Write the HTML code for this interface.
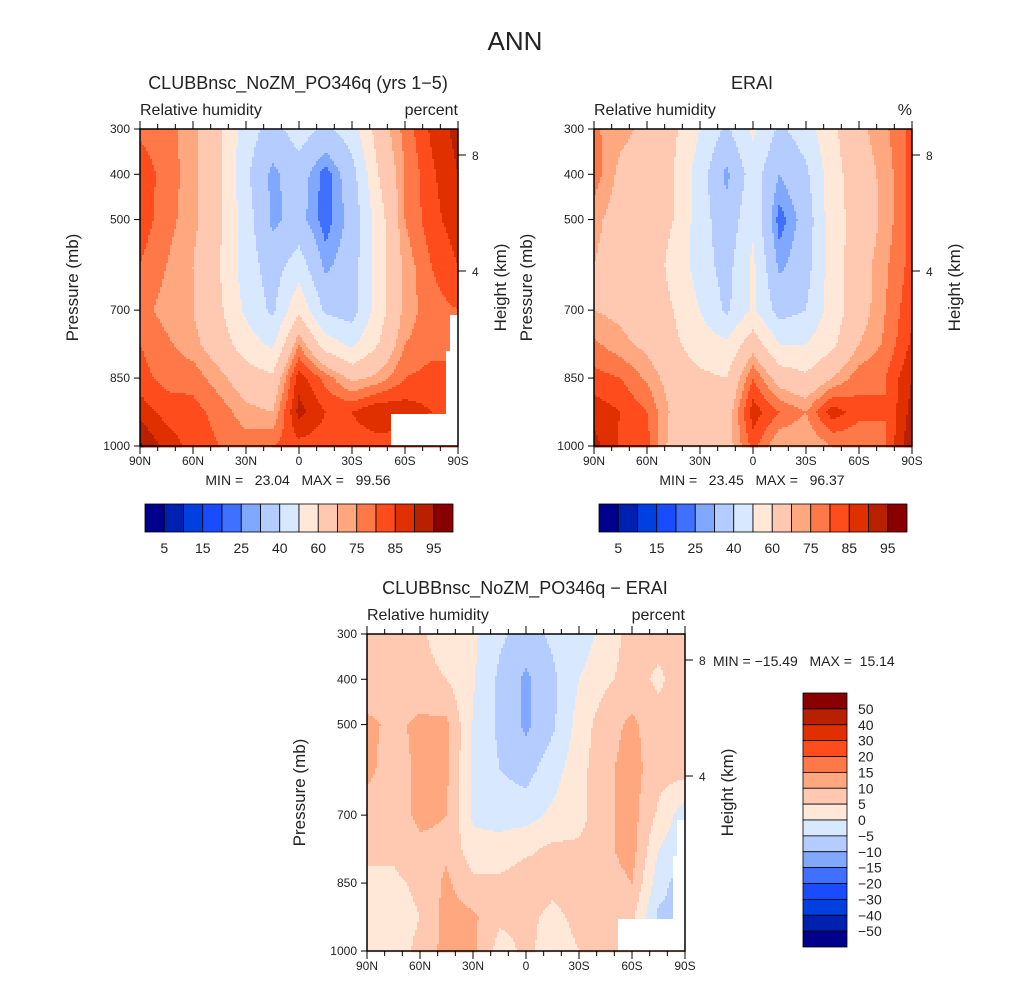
<!DOCTYPE html>
<html><head><meta charset="utf-8"><style>
body{margin:0;background:#fff;}
svg{display:block;font-family:"Liberation Sans","DejaVu Sans",sans-serif;}
.pre{white-space:pre;}
</style></head><body>
<svg id="root" width="1030" height="983" viewBox="0 0 1030 983" xmlns="http://www.w3.org/2000/svg">
<text x="515" y="50" font-size="26" text-anchor="middle" fill="#222">ANN</text>
</svg>
<script>
// ---- data ----
const lats = ["90N","75N","60N","45N","30N","15N","0","15S","30S","45S","60S","75S","90S"];
const latTickLabels = ["90N","60N","30N","0","30S","60S","90S"];
const pressureLevels = [300,400,500,600,700,775,850,925,1000];
const pressureTickLabels = [300,400,500,700,850,1000];
const heightTickLabels = [8,4];
const rhLevels = [5,10,15,20,25,30,40,50,60,70,75,80,85,90,95];
const rhLevelLabels = ["5","15","25","40","60","75","85","95"];
const diffLevels = [-50,-40,-30,-20,-15,-10,-5,0,5,10,15,20,30,40,50];
const palette = ["#00008c","#0020b0","#0040e0","#1a4cff","#4070ff","#80a8ff","#b4ccff","#d8e8ff","#ffe8d8","#ffc8b0","#ffa880","#ff7848","#ff4c1c","#e03000","#b82000","#880000"];
const modelRH = [
 [79,77,72,62,45,36,45,38,45,65,77,86,92],
 [83,78,72,62,42,28,35,22,36,60,75,84,90],
 [83,77,72,62,45,28,33,22,33,55,75,83,88],
 [80,75,70,60,45,35,45,28,35,55,72,80,85],
 [77,73,70,62,48,38,58,38,35,55,72,78,80],
 [80,76,72,65,55,48,75,55,48,60,75,78,80],
 [82,78,78,72,65,62,88,78,68,72,80,82,80],
 [88,83,82,78,72,70,92,85,85,90,88,85,85],
 [96,88,83,80,78,80,83,82,82,82,82,80,80]];
const eraiRH = [
 [76,72,68,62,50,38,52,38,45,58,68,74,82],
 [78,68,66,60,45,28,45,30,38,56,66,72,82],
 [72,66,64,60,45,33,48,22,34,56,64,72,82],
 [70,66,64,58,45,36,52,28,36,55,66,74,82],
 [70,68,64,60,50,38,52,36,40,55,66,75,84],
 [76,72,68,62,55,52,66,50,50,58,70,76,86],
 [82,80,74,66,62,60,80,66,62,70,78,80,90],
 [88,85,80,68,64,65,88,80,75,88,82,80,92],
 [92,84,82,66,62,66,82,70,70,75,75,80,95]];
const diffRH = [
 [7,7,6,2,1,-4,-7,-4,-3,2,7,7,7],
 [7,7,7,5,0.5,-6,-11,-6,0,4,7,4,8],
 [11,9,11,11,-0.5,-6,-11,-6,2,8,11,7,7],
 [11,8,11,11,-1,-5,-7,-2,3,9,12,7,7],
 [8,8,11,10,-1,-2,-2,1,3,9,12,4,-3],
 [7,6,9,9,2,2,4,6,6,9,12,0,-4],
 [3,4,6,11,6,6,8,6,7,8,10,-3,-8],
 [2,3,5,12,11,6,6,4,6,7,6,-6,-6],
 [3,3,6,12,11,3,6,3,5,5,5,3,3]];
const stats = [["23.04","99.56"],["23.45","96.37"],["\u221215.49","15.14"]];

const NS="http://www.w3.org/2000/svg";
const root=document.getElementById('root');
function el(tag,attrs,parent){const e=document.createElementNS(NS,tag);for(const k in attrs)e.setAttribute(k,attrs[k]);(parent||root).appendChild(e);return e;}
function txt(s,attrs,parent){const e=el('text',attrs,parent);e.textContent=s;return e;}

function binOf(v,levels){let b=0;while(b<levels.length&&v>=levels[b])b++;return b;}
function sample(grid,fx,p){
  let j=0;while(j<pressureLevels.length-2&&p>pressureLevels[j+1])j++;
  const t=Math.max(0,Math.min(1,(p-pressureLevels[j])/(pressureLevels[j+1]-pressureLevels[j])));
  let i=Math.min(11,Math.floor(fx));const s=fx-i;
  const a=grid[j][i]*(1-s)+grid[j][i+1]*s, b=grid[j+1][i]*(1-s)+grid[j+1][i+1]*s;
  return a*(1-t)+b*t;
}

function panel(px,py,grid,levels,opts){
  const W=318,H=317;
  const g=el('g',{});  
  const yScale=p=>py+(p-300)/700*H;
  const field=el('g',{},g);  
  const step=2;
  for(let y=0;y<H;y+=step){
    const p=300+(y+step/2)/H*700;
    let runStart=0,runBin=-1;
    for(let x=0;x<=W;x+=step){
      let b=-1;
      if(x<W){const v=sample(grid,(x+step/2)/W*12,p);b=binOf(v,levels);}
      if(b!==runBin){
        if(runBin>=0){const r=el('rect',{x:px+runStart,y:py+y,width:x-runStart+0.5,height:step+0.5,fill:palette[runBin]},field);
          
          }
        runStart=x;runBin=b;
      }
    }
  }
  (opts.masks||[]).forEach(m=>{el('rect',{x:px+m[0],y:py+m[1],width:m[2],height:m[3],fill:'#fff'},g);});
  el('rect',{x:px,y:py,width:W,height:H,fill:'none',stroke:'#000','stroke-width':1.5},g);
  for(let d=0;d<=180;d+=10){const x=px+d/180*W;const L=(d%30===0)?8:5;
    el('line',{x1:x,y1:py,x2:x,y2:py-L,stroke:'#000'},g);
    el('line',{x1:x,y1:py+H,x2:x,y2:py+H+L,stroke:'#000'},g);}
  latTickLabels.forEach((l,k)=>{const t=txt(l,{x:px+k*W/6,y:py+H+19,'font-size':12,'text-anchor':'middle',fill:'#222'},g);
     });
  pressureTickLabels.forEach(p=>{const y=yScale(p);
    el('line',{x1:px,y1:y,x2:px-6,y2:y,stroke:'#000'},g);
    const t=txt(String(p),{x:px-10,y:y+4,'font-size':12,'text-anchor':'end',fill:'#222'},g);
     });
  heightTickLabels.forEach((h,k)=>{const y=py+[26,142][k];
    el('line',{x1:px+W,y1:y,x2:px+W+8,y2:y,stroke:'#000'},g);
    const t=txt(String(h),{x:px+W+14,y:y+5,'font-size':12,fill:'#222'},g);
     });
  const yl=txt('Pressure (mb)',{x:0,y:0,'font-size':17,'text-anchor':'middle',fill:'#222',transform:`translate(${px-62},${py+H/2}) rotate(-90)`},g);
   
  const hl=txt('Height (km)',{x:0,y:0,'font-size':17,'text-anchor':'middle',fill:'#222',transform:`translate(${px+W+48},${py+H/2}) rotate(-90)`},g);
   
  const tt=txt(opts.title,{x:opts.titleX,y:py-40,'font-size':18,'text-anchor':'middle',fill:'#222'},g);
   
  const vl=txt('Relative humidity',{x:px,y:py-14,'font-size':16,fill:'#222'},g);
   
  const ul=txt(opts.units,{x:px+W,y:py-14,'font-size':16,'text-anchor':'end',fill:'#222'},g);
   
  return g;
}

const masks1=[[251,285,67,32],[310,186,8,99],[306,222,12,63]];
panel(140,129,modelRH,rhLevels,{name:'model-panel',title:'CLUBBnsc_NoZM_PO346q (yrs 1\u22125)',titleX:298,units:'percent',masks:masks1});
panel(594,129,eraiRH,rhLevels,{name:'erai-panel',title:'ERAI',titleX:752,units:'%'});
panel(367,634,diffRH,diffLevels,{name:'diff-panel',title:'CLUBBnsc_NoZM_PO346q \u2212 ERAI',titleX:525,units:'percent',masks:masks1});

[[298,485],[752,485]].forEach((pos,k)=>{const t=txt(`MIN =   ${stats[k][0]}   MAX =   ${stats[k][1]}`,{x:pos[0],y:pos[1],'font-size':14,'text-anchor':'middle',fill:'#222','class':'pre'});
   });
{const t=txt(`MIN = ${stats[2][0]}   MAX =  ${stats[2][1]}`,{x:713,y:666,'font-size':14,fill:'#222','class':'pre'});
  }

[145,599].forEach(x0=>{const g=el('g',{});
  const w=308/16;
  palette.forEach((c,i)=>{const r=el('rect',{x:x0+i*w,y:504,width:w,height:28,fill:c,stroke:'#000','stroke-width':0.8},g);
     });
  rhLevelLabels.forEach((l,k)=>{const t=txt(l,{x:x0+(2*k+1)*w,y:553,'font-size':14,'text-anchor':'middle',fill:'#222'},g);
     });
});
{const g=el('g',{});
  const y0=693,h=254/16;
  palette.slice().reverse().forEach((c,i)=>{const r=el('rect',{x:803,y:y0+i*h,width:44,height:h,fill:c,stroke:'#000','stroke-width':0.8},g);
     });
  diffLevels.slice().reverse().forEach((l,i)=>{const t=txt(String(l).replace('-','\u2212'),{x:858,y:y0+(i+1)*h+5,'font-size':14,fill:'#222'},g);
     });
}
</script>
</body></html>
